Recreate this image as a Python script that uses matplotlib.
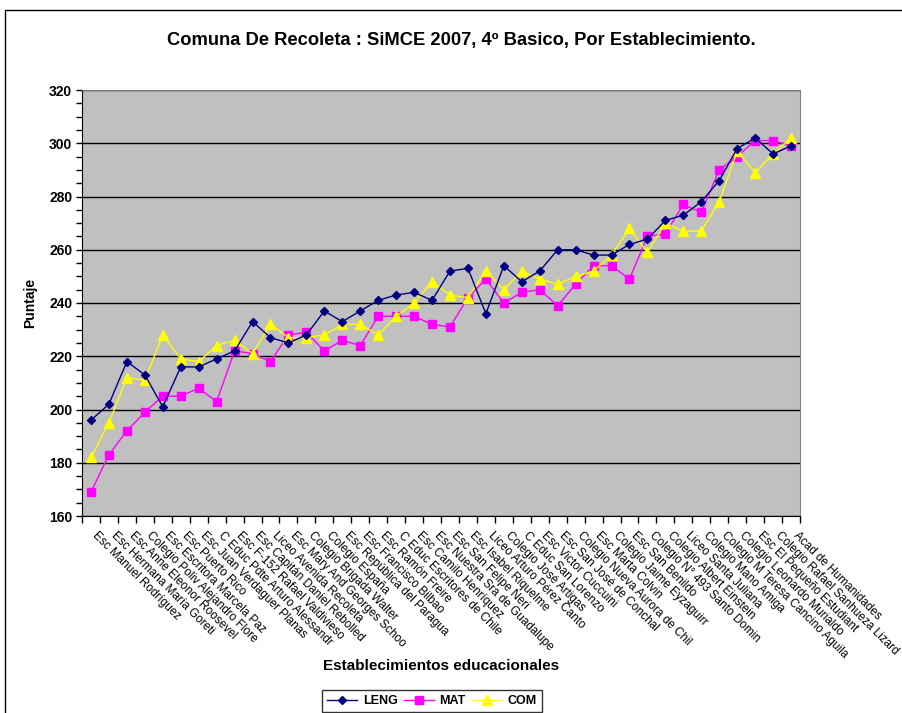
import matplotlib
matplotlib.use("Agg")
import matplotlib.pyplot as plt
from matplotlib.patches import Rectangle
from matplotlib.transforms import offset_copy
from matplotlib.ticker import MultipleLocator

plt.rcParams['font.family'] = ['Liberation Sans', 'DejaVu Sans']

# school names as they can be read under the axis (the original cuts the long ones)
schools = [
    "Esc Manuel Rodríguez", "Esc Hermana María Goreti", "Esc Anne Eleonor Roosevel",
    "Colegio Poliv Alejandro Flore", "Esc Escritora Marcela Paz", "Esc Puerto Rico",
    "Esc Juan Verdaguer Planas", "C Educ Pdte Arturo Alessandr", "Esc F-152 Rafael Valdivieso",
    "Esc Capitán Daniel Rebolled", "Liceo Avenida Recoleta", "Esc Mary And Georges Schoo",
    "Colegio Brigada Walter", "Colegio España", "Esc República del Paragua",
    "Esc Francisco Bilbao", "Esc Ramón Freire", "C Educ Escritores de Chile",
    "Esc Camilo Henríquez", "Esc Nuestra Sra de Guadalupe", "Esc San Felipe Neri",
    "Esc Isabel Riquelme", "Liceo Arturo Pérez Canto", "Colegio José Artigas",
    "C Educ San Lorenzo", "Esc Victor Cuccuini", "Esc San José de Conchal",
    "Colegio Nueva Aurora de Chil", "Esc Marta Colvin", "Colegio Jaime Eyzaguirr",
    "Esc San Benildo", "Colegio N° 493 Santo Domin", "Colegio Albert Einstein",
    "Liceo Santa Juliana", "Colegio Mano Amiga", "Colegio M Teresa Cancino Aguila",
    "Colegio Leonardo Murialdo", "Esc El Pequeño Estudiant", "Colegio Rafael Sanhueza Lizard",
    "Acad de Humanidades",
]

leng = [196, 202, 218, 213, 201, 216, 216, 219, 222, 233, 227, 225, 228, 237, 233, 237,
        241, 243, 244, 241, 252, 253, 236, 254, 248, 252, 260, 260, 258, 258, 262, 264,
        271, 273, 278, 286, 298, 302, 296, 299]
mat = [169, 183, 192, 199, 205, 205, 208, 203, 222, 221, 218, 228, 229, 222, 226, 224,
       235, 235, 235, 232, 231, 242, 249, 240, 244, 245, 239, 247, 254, 254, 249, 265,
       266, 277, 274, 290, 295, 301, 301, 299]
com = [182, 195, 212, 211, 228, 219, 218, 224, 226, 221, 232, 227, 227, 228, 232, 232,
       228, 235, 240, 248, 243, 242, 252, 245, 252, 249, 247, 250, 252, 258, 268, 259,
       270, 267, 267, 278, 297, 289, 296, 302]

W, H = 903, 713
fig = plt.figure(figsize=(W / 100, H / 100), dpi=100)
ax = fig.add_axes([82 / W, 1 - 516 / H, (800 - 82) / W, (516 - 90) / H])
ax.set_facecolor('#C0C0C0')

x = list(range(len(schools)))
ax.plot(x, leng, color='#000080', lw=1, marker='D', ms=4.5, label='LENG', zorder=4)
ax.plot(x, mat, color='#FF00FF', lw=1, marker='s', ms=5.5, label='MAT', zorder=3)
ax.plot(x, com, color='#FFFF00', lw=1, marker='^', ms=6.5, label='COM', zorder=3)

ax.set_xlim(-0.5, len(schools) - 0.5)
ax.set_ylim(160, 320)
ax.yaxis.set_major_locator(MultipleLocator(20))
ax.yaxis.set_minor_locator(MultipleLocator(5))
ax.grid(axis='y', which='major', color='#000000', lw=1)
ax.set_axisbelow(True)
for lbl in ax.get_yticklabels():
    lbl.set_fontweight('bold')
ax.tick_params(axis='y', which='both', direction='out', length=4, width=1, labelsize=10, pad=3)
ax.set_xticks([i - 0.5 for i in range(len(schools) + 1)])
ax.set_xticklabels([])
ax.tick_params(axis='x', direction='out', length=5, width=1)
for s in ['top', 'right']:
    ax.spines[s].set_color('#808080')
for s in ['left', 'bottom']:
    ax.spines[s].set_color('#000000')

trans = offset_copy(ax.get_xaxis_transform(), fig=fig, x=8, y=-14, units='dots')
for i, name in enumerate(schools):
    ax.text(i, 0, name, transform=trans, fontsize=8.5, rotation=-45,
            rotation_mode='anchor', ha='left', va='top')

fig.text(461 / W, 1 - 40 / H, "Comuna De Recoleta : SiMCE 2007, 4º Basico, Por Establecimiento.",
         ha='center', va='center', fontsize=13.2, fontweight='bold')
fig.text(441 / W, 1 - 666 / H, "Establecimientos educacionales", ha='center', va='center',
         fontsize=11, fontweight='bold')
fig.text(30 / W, 1 - 303 / H, "Puntaje", ha='center', va='center', rotation=90,
         fontsize=10, fontweight='bold')

leg = fig.legend(loc='center', bbox_to_anchor=(432 / W, 1 - 701 / H), ncol=3,
                 prop={'weight': 'bold', 'size': 9}, frameon=True, fancybox=False,
                 edgecolor='#000000', handlelength=2.4, handletextpad=0.45,
                 columnspacing=0.5, borderpad=0.4, borderaxespad=0)
leg.get_frame().set_linewidth(1)

fig.patches.append(Rectangle((5 / W, -0.1), 1.2, 1 - 10 / H + 0.1, transform=fig.transFigure,
                             fill=False, edgecolor='#000000', lw=1))

fig.savefig('out.png', dpi=100)
